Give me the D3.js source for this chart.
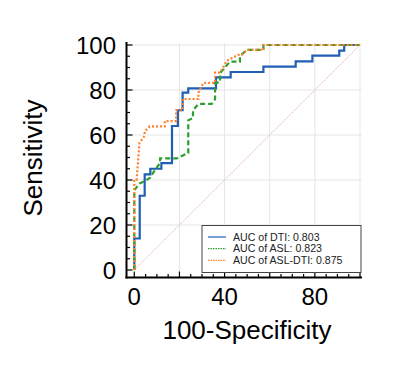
<!DOCTYPE html>
<html><head><meta charset="utf-8">
<script src="https://cdn.jsdelivr.net/npm/d3@7/dist/d3.min.js"></script>
<style>body{margin:0;background:#fff;} svg{display:block;font-family:Arial,"Liberation Sans",sans-serif;}</style>
</head><body><svg id="c" width="397" height="377"></svg>
<script>
const seriesNames = ["AUC of DTI: 0.803", "AUC of ASL: 0.823", "AUC of ASL-DTI: 0.875"];
const seriesColors = ["#1f5fb4", "#2ca02c", "#ff7f2a"];
const xTicks = [0, 40, 80];
const yTicks = [0, 20, 40, 60, 80, 100];
const dti = [[0,0],[0,14],[2.4,14],[2.4,33],[4.6,33],[4.6,42.5],[7.1,42.5],[7.1,45],[12,45],[12,47.5],[16.7,47.5],[16.7,64],[19.3,64],[19.3,71],[21.4,71],[21.4,78.8],[23.9,78.8],[23.9,80.7],[36.2,80.7],[36.2,85.6],[42.7,85.6],[42.7,88],[57.2,88],[57.2,90.4],[71.5,90.4],[71.5,92.7],[78.9,92.7],[78.9,95.3],[90.8,95.3],[90.8,97.5],[93,97.5],[93,100],[100,100]];
const asl = [[0,0],[0,35.5],[2.4,38.5],[4.7,39.5],[7,41],[9.2,44.5],[11.4,47.5],[11.4,49.6],[18.8,49.6],[23.9,52],[23.9,66.5],[26,67.5],[26,71],[28.4,73.8],[34.3,73.8],[35.8,76],[35.8,83],[38,83.5],[38,87.5],[42.4,92.6],[46.8,92.6],[46.8,95.1],[49.8,97.8],[57.2,97.8],[57.2,100],[100,100]];
const asldti = [[0,0],[0,40],[1,40],[2.3,56.5],[4.6,59.6],[4.6,61.5],[6.8,63.8],[13.5,63.8],[13.5,66.2],[18.5,66.2],[18.5,71],[21.4,71],[21.4,76],[28.4,76],[28.4,78.8],[30.6,83.2],[35.8,83.2],[35.8,87.7],[38,87.7],[41,93],[46,95.6],[47.6,95.6],[49.8,97.8],[57.2,97.8],[57.2,100],[100,100]];
const diagonal = [[0,0],[100,100]];

const svg = d3.select("#c");
const x = d3.scaleLinear().domain([0,100]).range([134.3,360]);
const y = d3.scaleLinear().domain([0,100]).range([270,45]);
const axX = 126.5, axY = 277.5;

// grid
const g = svg.append("g");
[20,40,60,80,100].forEach(v=>{
  g.append("line").attr("x1",x(v)).attr("x2",x(v)).attr("y1",y(0)+7).attr("y2",y(100)-2).attr("stroke","#e5e5e5").attr("stroke-width",1);
  g.append("line").attr("y1",y(v)).attr("y2",y(v)).attr("x1",x(0)-7).attr("x2",x(100)+2).attr("stroke","#e5e5e5").attr("stroke-width",1);
});

// diagonal
svg.append("line").attr("x1",x(diagonal[0][0])).attr("y1",y(diagonal[0][1])).attr("x2",x(diagonal[1][0])).attr("y2",y(diagonal[1][1]))
  .attr("stroke","#eab0ba").attr("stroke-width",1).attr("stroke-dasharray","1.5,1");

const line = d3.line().x(d=>x(d[0])).y(d=>y(d[1]));
const dashes = [null, "5,3", "2,2"];
[dti, asl, asldti].forEach((s,i)=>{
  svg.append("path").datum(s).attr("d",line).attr("fill","none")
    .attr("stroke",seriesColors[i]).attr("stroke-width",2.2)
    .attr("stroke-dasharray",dashes[i]);
});

// axes
const minor = d3.range(0,101,5);
const yAx = svg.append("g");
yAx.append("line").attr("x1",axX).attr("x2",axX).attr("y1",42).attr("y2",axY+1).attr("stroke","#000").attr("stroke-width",2);
minor.forEach(v=>{
  const major = v%20===0;
  yAx.append("line").attr("x1",axX).attr("x2",axX+(major?6:3.5)).attr("y1",y(v)).attr("y2",y(v)).attr("stroke","#000").attr("stroke-width",1.2);
});
yTicks.forEach(v=>{
  yAx.append("text").attr("x",116).attr("y",y(v)).attr("dy","0.36em").attr("text-anchor","end").attr("font-size",24).text(v);
});
const xAx = svg.append("g");
xAx.append("line").attr("x1",axX-1).attr("x2",362).attr("y1",axY).attr("y2",axY).attr("stroke","#000").attr("stroke-width",2);
minor.forEach(v=>{
  const major = v%20===0;
  xAx.append("line").attr("x1",x(v)).attr("x2",x(v)).attr("y1",axY).attr("y2",axY-(major?6:3.5)).attr("stroke","#000").attr("stroke-width",1.2);
});
xTicks.forEach(v=>{
  xAx.append("text").attr("x",x(v)).attr("y",305).attr("text-anchor","middle").attr("font-size",24).text(v);
});
svg.append("text").attr("x",247).attr("y",339).attr("text-anchor","middle").attr("font-size",26).text("100-Specificity");
svg.append("text").attr("transform","translate(42,158) rotate(-90)").attr("text-anchor","middle").attr("font-size",26).text("Sensitivity");

// legend
const lg = svg.append("g");
lg.append("rect").attr("x",202).attr("y",225.5).attr("width",159).attr("height",47).attr("fill","#fff").attr("stroke","#444").attr("stroke-width",1);
seriesNames.forEach((n,i)=>{
  const yy = 237 + i*11.7;
  lg.append("line").attr("x1",208).attr("x2",226).attr("y1",yy).attr("y2",yy).attr("stroke",seriesColors[i]).attr("stroke-width",1.2).attr("stroke-dasharray",i===0?null:"1.5,1");
  lg.append("text").attr("x",233).attr("y",yy).attr("dy","0.35em").attr("font-size",10.6).attr("fill","#222").text(n);
});
</script></body></html>
